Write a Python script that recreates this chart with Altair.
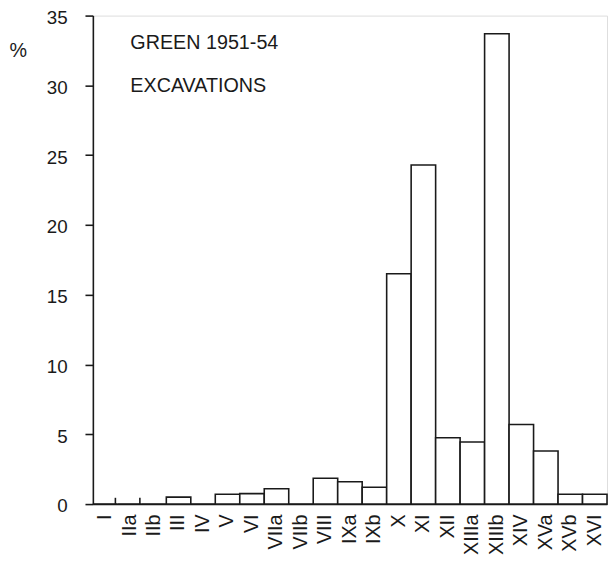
import altair as alt
import pandas as pd

categories = ["I", "IIa", "IIb", "III", "IV", "V", "VI", "VIIa", "VIIb", "VIII",
              "IXa", "IXb", "X", "XI", "XII", "XIIIa", "XIIIb", "XIV", "XVa", "XVb", "XVI"]
percent = [0, 0, 0, 0.5, 0, 0.7, 0.75, 1.1, 0, 1.85,
           1.6, 1.2, 16.5, 24.3, 4.75, 4.45, 33.7, 5.7, 3.8, 0.7, 0.7]
trace_categories = ["I", "IIa"]
trace_values = [0.45, 0.45]
notes = ["GREEN 1951-54", "EXCAVATIONS"]

df = pd.DataFrame({"cat": categories, "pct": percent})
tr = pd.DataFrame({"cat": trace_categories, "pct": trace_values, "zero": [0, 0]})

FONT = "Liberation Sans"
INK = "#1a1a1a"

x_enc = alt.X("cat:N", sort=categories, title=None,
              scale=alt.Scale(paddingInner=0, paddingOuter=0),
              axis=alt.Axis(labelAngle=270, labelAlign="right", labelBaseline="middle",
                            labelPadding=10, ticks=False, labelFontSize=20,
                            labelFont=FONT, labelColor=INK, domainColor=INK,
                            domainWidth=1.6, labelOverlap=False))
y_enc = alt.Y("pct:Q", scale=alt.Scale(domain=[0, 35], nice=False),
              axis=alt.Axis(values=[0, 5, 10, 15, 20, 25, 30, 35], grid=False,
                            tickSize=8, tickColor=INK, tickWidth=1.6,
                            domainColor=INK, domainWidth=1.6,
                            labelFontSize=19, labelFont=FONT, labelColor=INK,
                            labelPadding=18, labelOffset=2, title="%", titleAngle=0,
                            titleFontSize=20, titleFont=FONT, titleFontWeight="normal",
                            titleColor=INK, titleX=-76, titleY=35,
                            titleAlign="center", titleBaseline="middle"))

bars = alt.Chart(df).mark_bar(fill="white", stroke=INK, strokeWidth=1.6).encode(
    x=x_enc, y=y_enc)

traces = alt.Chart(tr).mark_rule(color=INK, strokeWidth=1.6).encode(
    x=alt.X("cat:N", sort=categories, bandPosition=0.92),
    y=alt.Y("pct:Q"), y2="zero:Q")

line1 = alt.Chart(pd.DataFrame({"t": [notes[0]]})).mark_text(
    align="left", baseline="middle", fontSize=20, font=FONT, color=INK).encode(
    x=alt.value(38), y=alt.value(28), text="t:N")
line2 = alt.Chart(pd.DataFrame({"t": [notes[1]]})).mark_text(
    align="left", baseline="middle", fontSize=20, font=FONT, color=INK).encode(
    x=alt.value(38), y=alt.value(71), text="t:N")

chart = alt.layer(bars, traces, line1, line2).properties(
    width=521, height=495,
    autosize=alt.AutoSizeParams(type="none"),
    padding={"left": 86, "top": 4, "right": 1, "bottom": 55}
).configure_view(stroke=None).configure(background="white")

chart.save("out.html", embed_options={"renderer": "svg", "actions": False})
